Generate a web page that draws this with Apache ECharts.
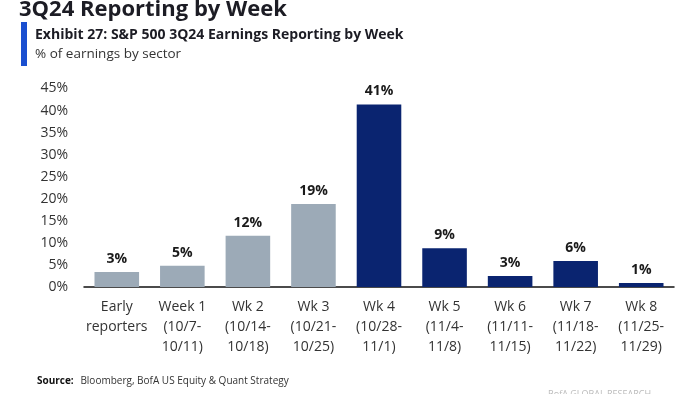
<!DOCTYPE html>
<html><head><meta charset="utf-8">
<script src="https://cdn.jsdelivr.net/npm/echarts@6/dist/echarts.min.js"></script>
<style>html,body{margin:0;padding:0;background:#fff}#c{width:700px;height:394px}</style>
</head><body><div id="c"></div>
<script>
var categories = ["Early\nreporters","Week 1\n(10/7-\n10/11)","Wk 2\n(10/14-\n10/18)","Wk 3\n(10/21-\n10/25)","Wk 4\n(10/28-\n11/1)","Wk 5\n(11/4-\n11/8)","Wk 6\n(11/11-\n11/15)","Wk 7\n(11/18-\n11/22)","Wk 8\n(11/25-\n11/29)"];
var values = [3.4, 4.8, 11.6, 18.8, 41.4, 8.8, 2.5, 5.9, 0.9];
var valueLabels = ["3%","5%","12%","19%","41%","9%","3%","6%","1%"];
var yTicks = [0,5,10,15,20,25,30,35,40,45];

var GRAY = "#9caab7", NAVY = "#0a2470";
var chart = echarts.init(document.getElementById('c'));
var FF = "'Open Sans', 'Noto Sans', sans-serif";
chart.setOption({
  animation: false,
  grid: {left: 84, right: 26, top: 88.5, bottom: 107},
  xAxis: {
    type: 'category', data: categories,
    axisLine: {lineStyle: {color: '#111', width: 1.5}},
    axisTick: {show: false},
    axisLabel: {color: '#333', fontSize: 14, fontFamily: FF, lineHeight: 20, margin: 10, interval: 0}
  },
  yAxis: {
    type: 'value', min: 0, max: 45, interval: 5,
    axisLine: {show: false}, axisTick: {show: false}, splitLine: {show: false},
    axisLabel: {color: '#333', fontSize: 14, fontFamily: FF, margin: 16,
      formatter: function(v){ return yTicks.indexOf(v) >= 0 ? v + '%' : ''; }}
  },
  series: [{
    type: 'bar', barWidth: '68%',
    data: values.map(function(v, i){
      return {value: v, itemStyle: {color: i < 4 ? GRAY : NAVY}};
    }),
    label: {show: true, position: 'top', distance: 6, color: '#1a1a1a', fontSize: 14, fontWeight: 'bold', fontFamily: FF,
      formatter: function(p){ return valueLabels[p.dataIndex]; }}
  }],
  graphic: [
    {type: 'text', left: 19, top: -1, style: {text: '3Q24 Reporting by Week', fill: '#1c1c24', font: "bold 22px " + FF}},
    {type: 'rect', shape: {x: 21, y: 22, width: 6, height: 44}, style: {fill: '#1a4fd0'}},
    {type: 'text', left: 35, top: 28, style: {text: 'Exhibit 27: S&P 500 3Q24 Earnings Reporting by Week', fill: '#1c1c24', font: "bold 14px " + FF}},
    {type: 'text', left: 35, top: 47, style: {text: '% of earnings by sector', fill: '#333', font: "13.5px " + FF}},
    {type: 'text', left: 37, top: 375, style: {rich: {b: {font: "bold 10px " + FF, fill: '#111'}, n: {font: "10px " + FF, fill: '#333'}}, text: '{b|Source:}  {n|Bloomberg, BofA US Equity & Quant Strategy}'}},
    {type: 'text', left: 548, top: 390, style: {text: 'BofA GLOBAL RESEARCH', fill: '#bbb', font: "9px " + FF}}
  ]
});
</script></body></html>
